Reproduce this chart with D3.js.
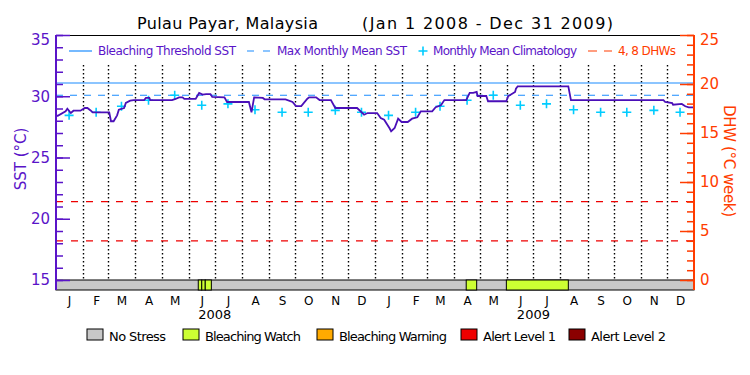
<!DOCTYPE html>
<html lang="en">
<head>
<meta charset="utf-8">
<script src="https://d3js.org/d3.v7.min.js"></script>
<title>Pulau Payar, Malaysia</title>
<style>
  body {margin: 0; background: #fff;}
  svg {display: block; font-family: "DejaVu Sans", sans-serif;}
</style>
</head>
<body>
<svg width="750" height="375"></svg>
<script>
// SST (breakpoints)
var sstDates = ["2008-01-01","2008-01-03","2008-01-12","2008-01-14","2008-01-18","2008-01-21","2008-01-29",
  "2008-02-03","2008-02-06","2008-02-10","2008-02-12","2008-03-02","2008-03-04","2008-03-07","2008-03-11",
  "2008-03-13","2008-03-19","2008-03-21","2008-03-26","2008-03-30","2008-04-11","2008-04-13","2008-04-17",
  "2008-04-18","2008-05-13","2008-05-17","2008-05-21","2008-05-25","2008-05-27","2008-06-09","2008-06-13",
  "2008-06-17","2008-06-21","2008-06-26","2008-06-28","2008-07-12","2008-07-15","2008-08-09","2008-08-12",
  "2008-08-15","2008-08-25","2008-08-27","2008-09-20","2008-09-28","2008-10-02","2008-10-08","2008-10-15",
  "2008-10-17","2008-10-25","2008-10-29","2008-11-11","2008-11-16","2008-12-11","2008-12-19","2008-12-23",
  "2009-01-03","2009-01-07","2009-01-11","2009-01-17","2009-01-19","2009-01-23","2009-01-27","2009-01-31",
  "2009-02-07","2009-02-12","2009-02-18","2009-02-22","2009-03-07","2009-03-11","2009-03-17","2009-03-21",
  "2009-04-15","2009-04-19","2009-04-23","2009-04-27","2009-04-28","2009-05-08","2009-05-10","2009-05-31",
  "2009-06-02","2009-06-10","2009-06-11","2009-06-13","2009-08-10","2009-08-13","2009-11-27","2009-11-29",
  "2009-12-07","2009-12-08","2009-12-18","2009-12-22","2009-12-26","2009-12-31"];
var sstValues = [28.41,28.41,28.77,28.98,28.63,28.82,28.82,
  29.04,29.04,28.82,28.69,28.69,27.96,27.96,28.44,
  28.90,29.04,29.45,29.64,29.69,29.69,29.86,29.86,
  29.69,29.69,29.78,29.91,29.91,29.78,29.78,30.27,
  30.13,30.18,30.18,29.94,29.91,29.53,29.53,28.69,
  29.91,29.86,29.75,29.75,29.53,29.20,29.20,29.80,
  29.91,29.91,29.69,29.69,29.04,29.04,28.49,28.63,
  28.63,28.22,28.09,27.41,27.14,27.41,28.17,27.90,
  27.90,28.17,28.28,28.77,28.77,29.10,29.26,29.69,
  29.69,30.27,30.27,30.35,30.02,30.02,29.59,29.59,
  30.00,30.35,30.62,30.81,30.81,29.69,29.69,29.53,
  29.45,29.31,29.37,29.18,29.10,29.10];

// monthly mean climatology, Jan..Dec
var climValues = [28.44,28.69,29.18,29.67,30.08,29.26,29.38,28.90,28.69,28.69,28.85,28.69];
var mmm = 30.08;
var threshold = 31.08;
var dhwLevels = [4, 8];

// bleaching status periods
var statusStart = ["2008-06-12","2008-06-16","2008-06-20","2009-04-15","2009-05-31"];
var statusEnd   = ["2008-06-16","2008-06-20","2008-06-27","2009-04-27","2009-08-10"];
var statusLevel = [1, 1, 1, 1, 1];
var statusNames = ["No Stress","Bleaching Watch","Bleaching Warning","Alert Level 1","Alert Level 2"];
var statusColors = ["#c8c8c8","#ccff33","#ffaa00","#ee0000","#8b0000"];

var monthLetters = ["J","F","M","A","M","J","J","A","S","O","N","D"];
var years = [2008, 2009];
var sstTicks = [15, 20, 25, 30, 35];
var dhwTicks = [0, 5, 10, 15, 20, 25];

var purple = "#5a14c8", orange = "#ff3c00", blue = "#1a8cff", cyan = "#00ccff";
var parse = d3.utcParse("%Y-%m-%d");

var svg = d3.select("svg");
var L = 56, R = 694, T = 35, B = 280, barB = 290;

var x = d3.scaleUtc().domain([new Date(Date.UTC(2008,0,1)), new Date(Date.UTC(2010,0,1))]).range([L, R]);
var ySST = d3.scaleLinear().domain([15, 35]).range([B, T]);
var yDHW = d3.scaleLinear().domain([0, 25]).range([B, T]);

// title
svg.append("text").attr("x", 137).attr("y", 29).attr("font-size", 16)
  .attr("textLength", 181).text("Pulau Payar, Malaysia");
svg.append("text").attr("x", 362).attr("y", 29).attr("font-size", 16)
  .attr("textLength", 251).text("(Jan 1 2008 - Dec 31 2009)");

// dotted month lines
var monthStarts = d3.utcMonth.range(new Date(Date.UTC(2008,1,1)), new Date(Date.UTC(2010,0,1)));
svg.append("g").attr("class", "grid").selectAll("line")
  .data(monthStarts)
  .enter().append("line")
  .attr("x1", d => Math.round(x(d)) + 0.5).attr("x2", d => Math.round(x(d)) + 0.5)
  .attr("y1", 65).attr("y2", B)
  .style("stroke", "#000").style("stroke-width", 1.4).style("stroke-dasharray", "1.5,2.5");

// frame top
svg.append("line").attr("x1", L).attr("x2", R).attr("y1", T + 0.5).attr("y2", T + 0.5).attr("stroke", "#000");

// threshold and MMM lines
svg.append("line").attr("x1", L).attr("x2", R)
  .attr("y1", ySST(threshold)).attr("y2", ySST(threshold)).attr("stroke", blue).attr("stroke-width", 1.2);
svg.append("line").attr("x1", L).attr("x2", R)
  .attr("y1", ySST(mmm)).attr("y2", ySST(mmm)).attr("stroke", blue).attr("stroke-width", 1.2)
  .attr("stroke-dasharray", "7,7");

// DHW levels
svg.append("g").selectAll("line").data(dhwLevels).enter().append("line")
  .attr("x1", L).attr("x2", R).attr("y1", d => yDHW(d)).attr("y2", d => yDHW(d))
  .attr("stroke", "#ee0000").attr("stroke-width", 1.2).attr("stroke-dasharray", "7,8");

// climatology pluses
var clim = [];
years.forEach(function(yr) {
  climValues.forEach(function(v, m) { clim.push({date: new Date(Date.UTC(yr, m, 16)), v: v}); });
});
svg.append("g").selectAll("path").data(clim).enter().append("path")
  .attr("d", d => "M" + (x(d.date) - 4.5) + "," + ySST(d.v) + "h9M" + x(d.date) + "," + (ySST(d.v) - 4.5) + "v9")
  .attr("stroke", cyan).attr("stroke-width", 1.6).attr("fill", "none");

// SST line
var sst = sstDates.map((d, i) => ({date: parse(d), v: sstValues[i]}));
svg.append("path").datum(sst)
  .attr("d", d3.line().x(d => x(d.date)).y(d => ySST(d.v)))
  .attr("fill", "none").attr("stroke", "#4a0fb8").attr("stroke-width", 1.8);

// status bar
svg.append("rect").attr("x", L).attr("y", B).attr("width", R - L).attr("height", barB - B)
  .attr("fill", statusColors[0]).attr("stroke", "#000");
svg.append("g").selectAll("rect").data(statusStart).enter().append("rect")
  .attr("x", (d, i) => x(parse(d))).attr("y", B)
  .attr("width", (d, i) => x(parse(statusEnd[i])) - x(parse(d))).attr("height", barB - B)
  .attr("fill", (d, i) => statusColors[statusLevel[i]]).attr("stroke", "#000");

// left axis
svg.append("line").attr("x1", L).attr("x2", L).attr("y1", T).attr("y2", barB)
  .attr("stroke", purple).attr("stroke-width", 2);
var gMinor = svg.append("g").attr("transform", "translate(" + L + ",0)")
  .call(d3.axisLeft(ySST).tickValues(d3.range(15, 36)).tickSizeInner(-7).tickSizeOuter(0).tickFormat(""));
var gMajor = svg.append("g").attr("transform", "translate(" + L + ",0)")
  .call(d3.axisLeft(ySST).tickValues(sstTicks).tickSizeInner(-14).tickSizeOuter(0).tickPadding(6));
[gMinor, gMajor].forEach(function(g) {
  g.select(".domain").remove();
  g.selectAll("line").attr("stroke", purple).attr("stroke-width", 1.5);
});
gMajor.selectAll("text").attr("fill", purple).attr("font-size", 15)
  .attr("font-family", "DejaVu Sans")
  .filter(d => d === 35).attr("y", 5);

// right axis
svg.append("line").attr("x1", R).attr("x2", R).attr("y1", T).attr("y2", barB)
  .attr("stroke", orange).attr("stroke-width", 2);
var rMinor = svg.append("g").attr("transform", "translate(" + R + ",0)")
  .call(d3.axisRight(yDHW).tickValues(d3.range(0, 26)).tickSizeInner(-7).tickSizeOuter(0).tickFormat(""));
var rMajor = svg.append("g").attr("transform", "translate(" + R + ",0)")
  .call(d3.axisRight(yDHW).tickValues(dhwTicks).tickSizeInner(-14).tickSizeOuter(0).tickPadding(6));
[rMinor, rMajor].forEach(function(g) {
  g.select(".domain").remove();
  g.selectAll("line").attr("stroke", orange).attr("stroke-width", 1.5);
});
rMajor.selectAll("text").attr("fill", orange).attr("font-size", 15)
  .attr("font-family", "DejaVu Sans")
  .filter(d => d === 25).attr("y", 5);

// axis titles
svg.append("text").attr("transform", "translate(26,159) rotate(-90)")
  .attr("text-anchor", "middle").attr("font-size", 15).attr("fill", purple).text("SST (°C)");
svg.append("text").attr("transform", "translate(724,161) rotate(90)")
  .attr("text-anchor", "middle").attr("font-size", 15).attr("fill", orange)
  .attr("textLength", 112).text("DHW (°C week)");

// month and year labels
var midMonths = [];
years.forEach(yr => d3.range(12).forEach(m => midMonths.push(new Date(Date.UTC(yr, m, 16)))));
var gx = svg.append("g").attr("transform", "translate(0," + barB + ")")
  .call(d3.axisBottom(x).tickValues(midMonths).tickSize(0).tickPadding(6)
    .tickFormat(d => monthLetters[d.getUTCMonth()]));
gx.select(".domain").remove();
gx.selectAll("text").attr("font-size", 12).attr("font-family", "DejaVu Sans").attr("fill", "#000");
svg.append("g").selectAll("text").data(years).enter().append("text")
  .attr("x", d => x(new Date(Date.UTC(d, 6, 1)))).attr("y", 319)
  .attr("text-anchor", "middle").attr("font-size", 13).text(d => d);

// top legend
var lg = svg.append("g").attr("font-size", 12);
lg.append("line").attr("x1", 69).attr("x2", 92).attr("y1", 51).attr("y2", 51).attr("stroke", blue).attr("stroke-width", 1.2);
lg.append("text").attr("x", 98).attr("y", 55).attr("fill", purple).attr("textLength", 138).text("Bleaching Threshold SST");
lg.append("line").attr("x1", 247).attr("x2", 270).attr("y1", 51).attr("y2", 51).attr("stroke", blue)
  .attr("stroke-width", 1.2).attr("stroke-dasharray", "7,9");
lg.append("text").attr("x", 277).attr("y", 55).attr("fill", purple).attr("textLength", 130).text("Max Monthly Mean SST");
lg.append("path").attr("d", "M418.5,51h9M423,46.5v9").attr("stroke", cyan).attr("stroke-width", 1.6);
lg.append("text").attr("x", 433).attr("y", 55).attr("fill", purple).attr("textLength", 144).text("Monthly Mean Climatology");
lg.append("line").attr("x1", 588).attr("x2", 612).attr("y1", 51).attr("y2", 51).attr("stroke", orange)
  .attr("stroke-width", 1.2).attr("stroke-dasharray", "9,7");
lg.append("text").attr("x", 618).attr("y", 55).attr("fill", orange).attr("textLength", 58).text("4, 8 DHWs");

// status legend
var boxX = [87, 183, 317, 461, 569];
var textW = [57, 96, 108, 73, 75];
var sl = svg.append("g").selectAll("g").data(statusNames).enter().append("g")
  .attr("transform", (d, i) => "translate(" + boxX[i] + ",329)");
sl.append("rect").attr("width", 16).attr("height", 11).attr("fill", (d, i) => statusColors[i]).attr("stroke", "#000");
sl.append("text").attr("x", 22).attr("y", 12).attr("font-size", 13)
  .attr("textLength", (d, i) => textW[i]).text(d => d);
</script>
</body>
</html>
